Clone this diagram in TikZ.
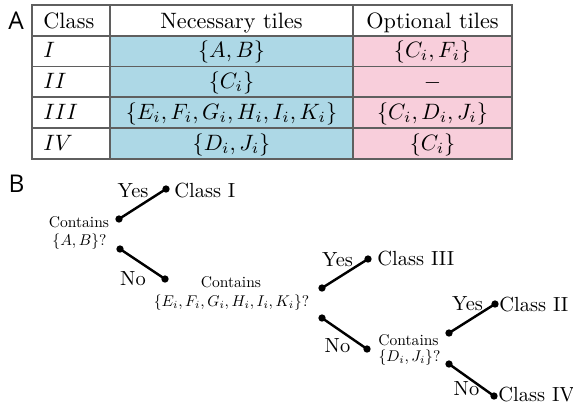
\documentclass[tikz,border=0pt]{standalone}
\usepackage{fontspec}
\newfontfamily\labelfont{Open Sans}
\definecolor{tblue}{RGB}{173,216,230}
\definecolor{tpink}{RGB}{248,206,219}
\definecolor{tline}{RGB}{95,95,95}
\begin{document}
\begin{tikzpicture}[x=0.45pt,y=-0.45pt,
  cell/.style={anchor=base,inner sep=0},
  lcell/.style={anchor=base west,inner sep=0},
  tlab/.style={anchor=base,inner sep=0,scale=0.92},
  clab/.style={anchor=base west,inner sep=0,scale=0.92},
  cont/.style={anchor=base,inner sep=0,scale=0.7},
  dot/.style={circle,fill,inner sep=0,minimum size=3.3pt},
  edge/.style={line width=1.1pt},
  rule/.style={tline,line width=0.65pt},
  panel/.style={inner sep=0,font=\labelfont\fontsize{11}{13}\selectfont}]
\useasboundingbox (0,0) rectangle (573,404);
% ---- panel labels
\node[panel] (A) at (16,21) {A};
\node[panel] (B) at (16.5,184) {B};
% ---- table
\fill[tblue] (110,36) rectangle (353,159);
\fill[tpink] (353,36) rectangle (512,159);
\draw[rule] (32,5) rectangle (512,159);
\foreach \yy in {36,66.5,97,128} \draw[rule] (32,\yy) -- (512,\yy);
\foreach \xx in {110,353} \draw[rule] (\xx,5) -- (\xx,159);
\node[lcell] (h1) at (43,28) {Class};
\node[cell] (h2) at (231.5,28) {Necessary tiles};
\node[cell] (h3) at (432.5,28) {Optional tiles};
\node[lcell] (r1c1) at (43,57.5) {$I$};
\node[cell] (r1c2) at (231.5,57.5) {$\{A,B\}$};
\node[cell] (r1c3) at (432.5,57.5) {$\{C_i,F_i\}$};
\node[lcell] (r2c1) at (43,88) {$II$};
\node[cell] (r2c2) at (231.5,88) {$\{C_i\}$};
\node[cell] (r2c3) at (432.5,88) {$-$};
\node[lcell] (r3c1) at (43,119) {$III$};
\node[cell] (r3c2) at (231.5,119) {$\{E_i,F_i,G_i,H_i,I_i,K_i\}$};
\node[cell] (r3c3) at (432.5,119) {$\{C_i,D_i,J_i\}$};
\node[lcell] (r4c1) at (43,150) {$IV$};
\node[cell] (r4c2) at (231.5,150) {$\{D_i,J_i\}$};
\node[cell] (r4c3) at (432.5,150) {$\{C_i\}$};
% ---- tree 1
\node[cont] (q1a) at (79,227) {Contains};
\node[cont] (q1b) at (79.5,245) {$\{A,B\}$?};
\node[dot] (d1y) at (119,219) {};
\node[dot] (e1y) at (166,189) {};
\node[dot] (d1n) at (120,249) {};
\node[dot] (e1n) at (165,279) {};
\draw[edge] (d1y.center) -- (e1y.center);
\draw[edge] (d1n.center) -- (e1n.center);
\node[tlab] (y1) at (133,197) {Yes};
\node[clab] (c1) at (174,197) {Class I};
\node[tlab] (n1) at (133,285) {No};
% ---- tree 2
\node[cont] (q2a) at (231,287) {Contains};
\node[cont] (q2b) at (231.5,306) {$\{E_i,F_i,G_i,H_i,I_i,K_i\}$?};
\node[dot] (d2y) at (322,288) {};
\node[dot] (e2y) at (368,259) {};
\node[dot] (d2n) at (322,318) {};
\node[dot] (e2n) at (367,349) {};
\draw[edge] (d2y.center) -- (e2y.center);
\draw[edge] (d2n.center) -- (e2n.center);
\node[tlab] (y2) at (337.5,266) {Yes};
\node[clab] (c3) at (377,265) {Class III};
\node[tlab] (n2) at (337.5,352) {No};
% ---- tree 3
\node[cont] (q3a) at (408.5,345) {Contains};
\node[cont] (q3b) at (409.5,361) {$\{D_i,J_i\}$?};
\node[dot] (d3y) at (449,333) {};
\node[dot] (e3y) at (495,304) {};
\node[dot] (d3n) at (449,364) {};
\node[dot] (e3n) at (494,396) {};
\draw[edge] (d3y.center) -- (e3y.center);
\draw[edge] (d3n.center) -- (e3n.center);
\node[tlab] (y3) at (467.5,310) {Yes};
\node[clab] (c2) at (499,311) {Class II};
\node[tlab] (n3) at (466.5,395) {No};
\node[clab] (c4) at (498,401) {Class IV};
\end{tikzpicture}
\end{document}
